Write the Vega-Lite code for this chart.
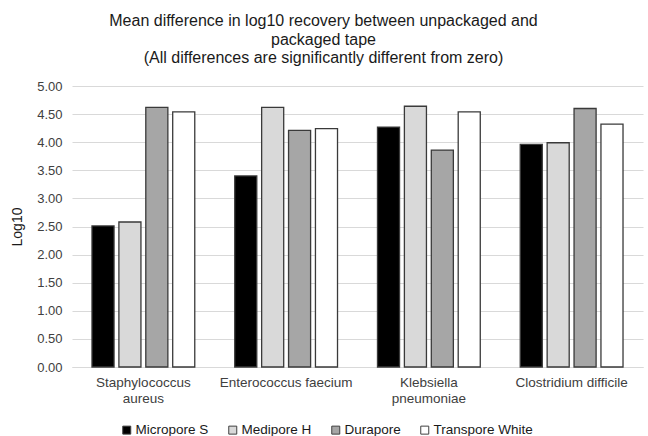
{
  "$schema": "https://vega.github.io/schema/vega-lite/v6.json",
  "autosize": "none",
  "width": 571,
  "height": 281,
  "padding": {"left": 72, "top": 86, "right": 5, "bottom": 69},
  "background": "white",
  "config": {
    "font": "Liberation Sans",
    "view": {"stroke": null}
  },
  "title": {
    "text": ["Mean difference in log10 recovery between unpackaged and", "packaged tape", "(All differences are significantly different from zero)"],
    "fontSize": 16,
    "fontWeight": "normal",
    "color": "#1a1a1a",
    "lineHeight": 18.5,
    "anchor": "middle",
    "frame": "group",
    "dx": -34,
    "offset": 14
  },
  "data": {
    "values": [
      {"organism": "Staphylococcus aureus", "tape": "Micropore S", "value": 2.51},
      {"organism": "Staphylococcus aureus", "tape": "Medipore H", "value": 2.58},
      {"organism": "Staphylococcus aureus", "tape": "Durapore", "value": 4.62},
      {"organism": "Staphylococcus aureus", "tape": "Transpore White", "value": 4.54},
      {"organism": "Enterococcus faecium", "tape": "Micropore S", "value": 3.40},
      {"organism": "Enterococcus faecium", "tape": "Medipore H", "value": 4.62},
      {"organism": "Enterococcus faecium", "tape": "Durapore", "value": 4.21},
      {"organism": "Enterococcus faecium", "tape": "Transpore White", "value": 4.24},
      {"organism": "Klebsiella pneumoniae", "tape": "Micropore S", "value": 4.27},
      {"organism": "Klebsiella pneumoniae", "tape": "Medipore H", "value": 4.64},
      {"organism": "Klebsiella pneumoniae", "tape": "Durapore", "value": 3.86},
      {"organism": "Klebsiella pneumoniae", "tape": "Transpore White", "value": 4.54},
      {"organism": "Clostridium difficile", "tape": "Micropore S", "value": 3.96},
      {"organism": "Clostridium difficile", "tape": "Medipore H", "value": 3.99},
      {"organism": "Clostridium difficile", "tape": "Durapore", "value": 4.60},
      {"organism": "Clostridium difficile", "tape": "Transpore White", "value": 4.32}
    ]
  },
  "mark": {"type": "bar", "stroke": "#3a3a3a", "strokeWidth": 1.3},
  "encoding": {
    "x": {
      "field": "organism",
      "type": "nominal",
      "sort": ["Staphylococcus aureus", "Enterococcus faecium", "Klebsiella pneumoniae", "Clostridium difficile"],
      "scale": {"paddingInner": 0.28, "paddingOuter": 0.14},
      "axis": {
        "title": null,
        "labelAngle": 0,
        "labelFontSize": 13.5,
        "labelColor": "#404040",
        "labelPadding": 8,
        "labelLineHeight": 16,
        "ticks": false,
        "domainColor": "#d9d9d9",
        "labelExpr": "datum.label == 'Staphylococcus aureus' || datum.label == 'Klebsiella pneumoniae' ? split(datum.label, ' ') : datum.label"
      }
    },
    "xOffset": {
      "field": "tape",
      "type": "nominal",
      "sort": ["Micropore S", "Medipore H", "Durapore", "Transpore White"],
      "scale": {"paddingInner": 0.18, "paddingOuter": 0}
    },
    "y": {
      "field": "value",
      "type": "quantitative",
      "scale": {"domain": [0, 5]},
      "axis": {
        "title": "Log10",
        "titleFontSize": 14,
        "titleFontWeight": "normal",
        "titleColor": "#1a1a1a",
        "titlePadding": 12,
        "values": [0, 0.5, 1, 1.5, 2, 2.5, 3, 3.5, 4, 4.5, 5],
        "format": ".2f",
        "labelFontSize": 13,
        "labelColor": "#404040",
        "labelPadding": 10,
        "ticks": false,
        "domain": false,
        "gridColor": "#d9d9d9",
        "gridWidth": 1
      }
    },
    "color": {
      "field": "tape",
      "type": "nominal",
      "sort": ["Micropore S", "Medipore H", "Durapore", "Transpore White"],
      "scale": {
        "domain": ["Micropore S", "Medipore H", "Durapore", "Transpore White"],
        "range": ["#000000", "#d9d9d9", "#a6a6a6", "#ffffff"]
      },
      "legend": {
        "title": null,
        "orient": "none",
        "direction": "horizontal",
        "legendX": 48,
        "legendY": 337,
        "symbolType": "square",
        "symbolSize": 64,
        "symbolStrokeColor": "#404040",
        "symbolStrokeWidth": 1,
        "symbolOpacity": 1,
        "labelFontSize": 13.5,
        "labelColor": "#1a1a1a",
        "labelOffset": 2,
        "columnPadding": 17
      }
    }
  }
}
